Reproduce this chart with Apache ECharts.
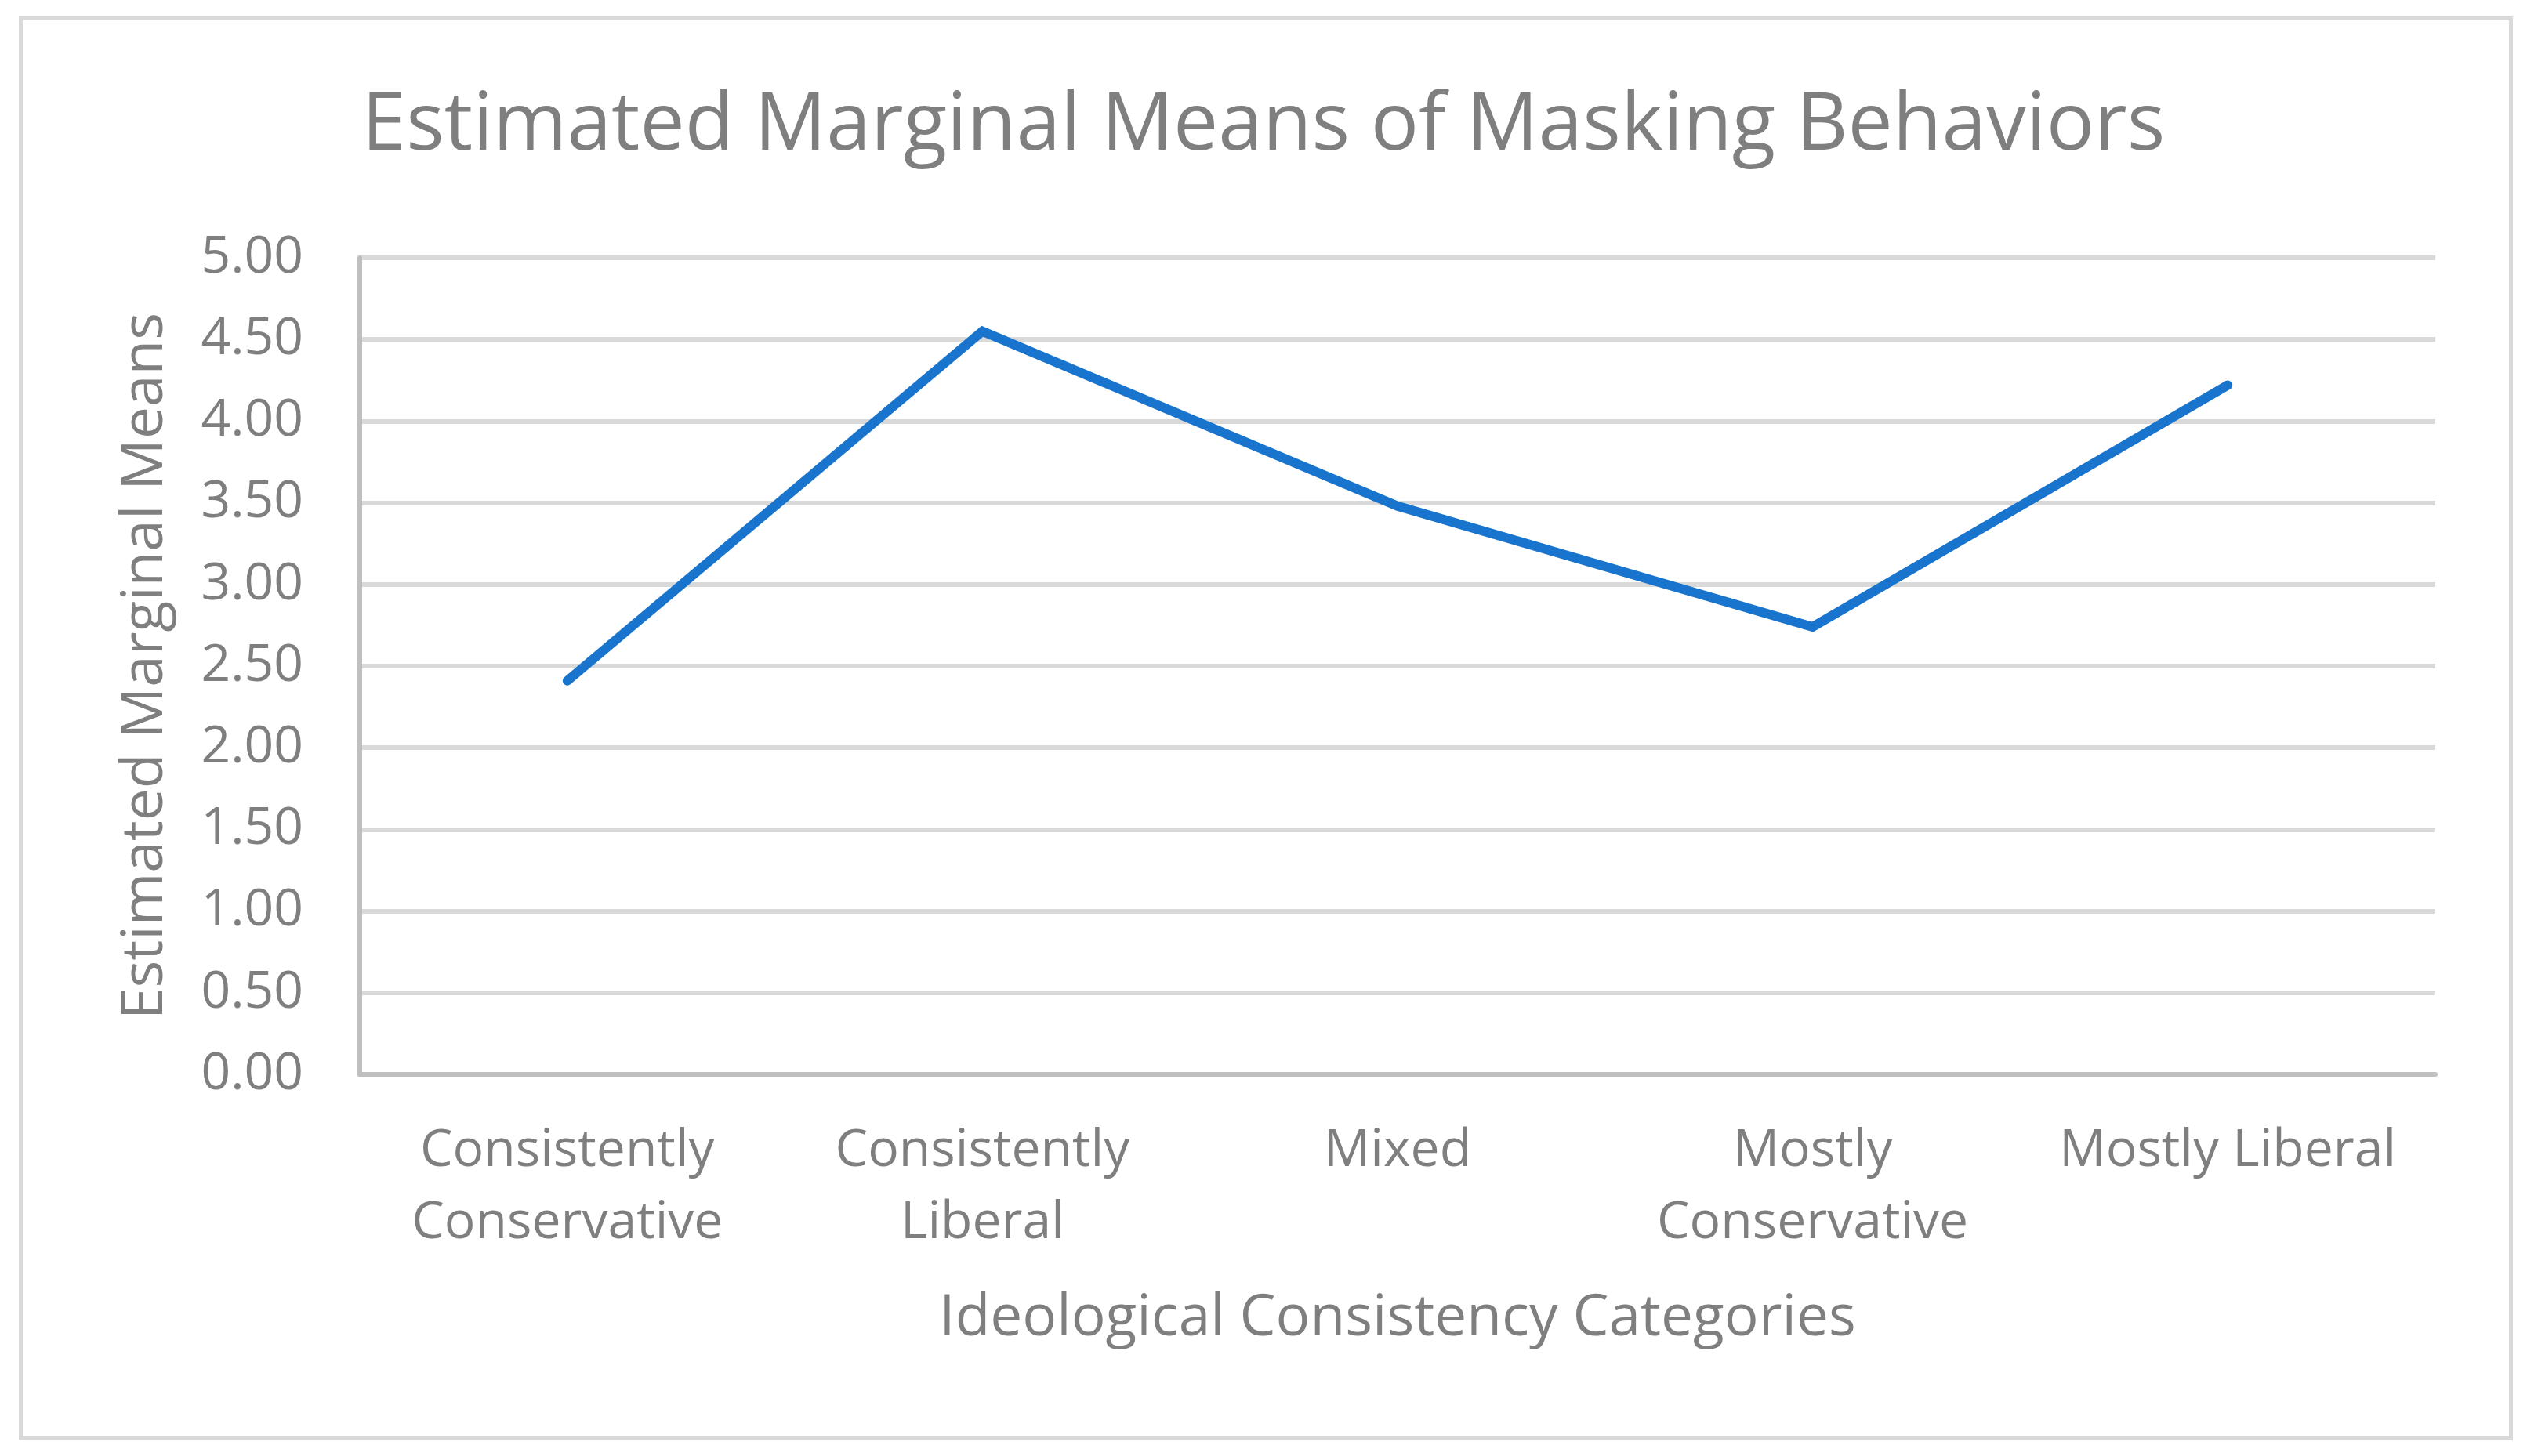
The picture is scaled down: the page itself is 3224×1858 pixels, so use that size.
<!DOCTYPE html>
<html>
<head>
<meta charset="utf-8">
<script src="https://cdn.jsdelivr.net/npm/echarts@6/dist/echarts.min.js"></script>
<style>
html,body{margin:0;padding:0;background:#fff;}
#chart{width:3224px;height:1858px;}
</style>
</head>
<body>
<div id="chart"></div>
<script>
const chartTitle = 'Estimated Marginal Means of Masking Behaviors';
const xAxisTitle = 'Ideological Consistency Categories';
const yAxisTitle = 'Estimated Marginal Means';
const categories = ['Consistently\nConservative', 'Consistently\nLiberal', 'Mixed', 'Mostly\nConservative', 'Mostly Liberal'];
const meanValues = [2.41, 4.55, 3.48, 2.74, 4.22];
const yTicks = { min: 0, max: 5, interval: 0.5 };

const FONT = '"Open Sans", "Noto Sans", sans-serif';
const TXT = '#7f7f7f';
const chart = echarts.init(document.getElementById('chart'));
chart.setOption({
  backgroundColor: '#ffffff',
  animation: false,
  graphic: [{
    type: 'rect', left: 24, top: 21,
    shape: { width: 3177, height: 1812 },
    style: { fill: 'none', stroke: '#d9d9d9', lineWidth: 5 },
    silent: true
  }],
  title: {
    text: chartTitle,
    left: 'center', top: 106,
    textStyle: { fontFamily: FONT, fontSize: 102, fontWeight: 'normal', color: TXT }
  },
  grid: { left: 459, right: 117, top: 329, bottom: 487, containLabel: false },
  xAxis: {
    type: 'category',
    data: categories,
    boundaryGap: true,
    name: xAxisTitle,
    nameLocation: 'middle',
    nameGap: 276,
    nameTextStyle: { fontFamily: FONT, fontSize: 73, color: TXT },
    axisLine: { show: true, lineStyle: { color: '#bfbfbf', width: 6 } },
    axisTick: { show: false },
    axisLabel: { interval: 0, margin: 52, fontFamily: FONT, fontSize: 66, lineHeight: 92, color: TXT }
  },
  yAxis: {
    type: 'value',
    min: yTicks.min, max: yTicks.max, interval: yTicks.interval,
    name: yAxisTitle,
    nameLocation: 'middle',
    nameGap: 236,
    nameTextStyle: { fontFamily: FONT, fontSize: 73, color: TXT },
    axisLine: { show: true, lineStyle: { color: '#bfbfbf', width: 6 } },
    axisTick: { show: false },
    splitLine: { show: true, lineStyle: { color: '#d9d9d9', width: 6 } },
    axisLabel: { margin: 72, fontFamily: FONT, fontSize: 66, color: TXT, formatter: v => v.toFixed(2) }
  },
  series: [{
    type: 'line',
    data: meanValues,
    showSymbol: false,
    lineStyle: { color: '#1874cd', width: 12, cap: 'round', join: 'miter' },
    itemStyle: { color: '#1874cd' }
  }]
});
</script>
</body>
</html>
